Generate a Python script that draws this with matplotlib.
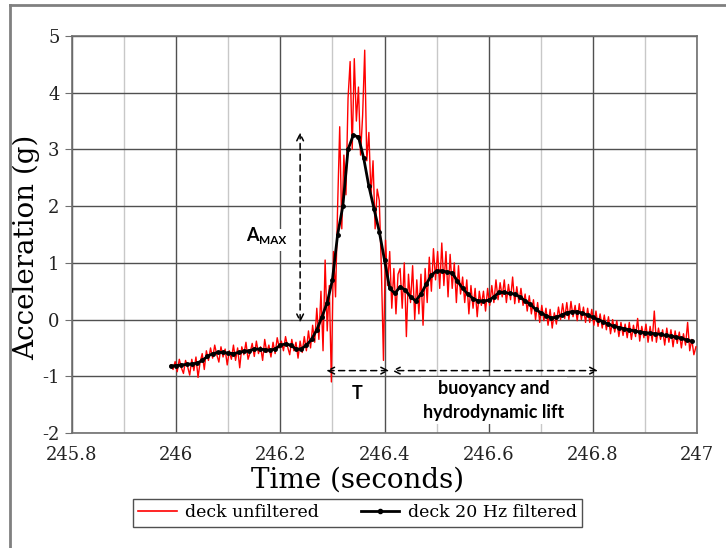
import matplotlib
matplotlib.use("Agg")
import matplotlib.pyplot as plt
import numpy as np
from matplotlib.lines import Line2D

plt.rcParams["axes.unicode_minus"] = False

# raw deck accelerometer trace (g), sampled every raw_dt seconds from raw_t0
raw_t0 = 245.99
raw_dt = 0.004
raw_acc = [
    -0.80, -0.88, -0.74, -0.92, -0.70, -0.85, -0.95, -0.72, -0.83, -0.98,
    -0.70, -0.90, -0.66, -1.02, -0.75, -0.60, -0.88, -0.55, -0.72, -0.50,
    -0.68, -0.45, -0.62, -0.75, -0.48, -0.66, -0.52, -0.80, -0.55, -0.70,
    -0.45, -0.72, -0.50, -0.85, -0.48, -0.62, -0.40, -0.70, -0.58, -0.42,
    -0.65, -0.38, -0.60, -0.48, -0.72, -0.35, -0.58, -0.45, -0.66, -0.40,
    -0.60, -0.32, -0.50, -0.38, -0.55, -0.30, -0.48, -0.62, -0.35, -0.55,
    -0.40, -0.68, -0.38, -0.58, -0.30, -0.55, -0.20, -0.50, -0.10, -0.40,
    0.20, -0.35, 0.50, -0.55, 1.05, -0.20, 0.60, -1.10, 1.20, 0.40,
    2.00, 3.40, 1.60, 2.90, 2.20, 3.90, 4.55, 3.00, 4.60, 3.50,
    4.10, 2.90, 3.60, 4.75, 2.80, 3.30, 2.20, 2.80, 1.60, 2.30,
    2.10, 0.90, -0.72, 1.40, 0.60, 1.20, 0.20, 0.90, 0.10, 0.80,
    0.90, 0.20, 1.00, -0.30, 0.80, 0.30, 0.95, 0.00, 0.70, 0.10,
    0.80, -0.10, 0.90, 0.30, 1.10, 0.50, 1.25, 0.70, 1.20, 0.55,
    1.35, 0.60, 1.20, 0.40, 1.15, 0.55, 1.00, 0.30, 0.95, 0.45,
    0.75, 0.30, 0.70, 0.10, 0.60, 0.20, 0.55, 0.05, 0.50, 0.25,
    0.50, 0.15, 0.55, 0.25, 0.60, 0.30, 0.70, 0.35, 0.65, 0.40,
    0.70, 0.30, 0.62, 0.35, 0.75, 0.28, 0.58, 0.30, 0.55, 0.25,
    0.45, 0.15, 0.42, 0.10, 0.35, 0.00, 0.30, -0.05, 0.25, -0.02,
    0.20, -0.10, 0.18, -0.15, 0.12, -0.08, 0.22, 0.00, 0.28, 0.02,
    0.30, 0.00, 0.32, 0.05, 0.25, -0.02, 0.28, 0.00, 0.22, -0.05,
    0.20, -0.05, 0.18, -0.10, 0.15, -0.12, 0.10, -0.15, 0.08, -0.18,
    0.05, -0.25, 0.00, -0.22, -0.02, -0.30, -0.05, -0.28, -0.08, -0.32,
    -0.05, -0.35, -0.10, -0.30, 0.02, -0.38, -0.12, -0.32, -0.08, -0.40,
    -0.12, -0.38, 0.15, -0.40, -0.15, -0.35, -0.18, -0.45, -0.15, -0.40,
    -0.18, -0.48, -0.20, -0.42, -0.22, -0.50, -0.25, -0.45, -0.05, -0.55,
    -0.35, -0.62, -0.48,
]

# 20 Hz filtered trace (g), every filt_dt seconds from filt_t0
filt_t0 = 245.99
filt_dt = 0.01
filt_acc = [
    -0.82, -0.81, -0.80, -0.79, -0.78, -0.77, -0.72, -0.65, -0.60, -0.58,
    -0.58, -0.59, -0.60, -0.58, -0.56, -0.55, -0.52, -0.52, -0.53, -0.54,
    -0.52, -0.45, -0.43, -0.45, -0.52, -0.52, -0.45, -0.35, -0.18, 0.05,
    0.30, 0.70, 1.50, 2.00, 3.00, 3.25, 3.22, 2.85, 2.35, 1.95,
    1.55, 1.05, 0.55, 0.46, 0.58, 0.52, 0.40, 0.33, 0.45, 0.62,
    0.78, 0.86, 0.86, 0.84, 0.82, 0.68, 0.55, 0.45, 0.37, 0.33,
    0.33, 0.34, 0.40, 0.48, 0.48, 0.46, 0.45, 0.40, 0.33, 0.27,
    0.18, 0.12, 0.07, 0.03, 0.04, 0.08, 0.12, 0.14, 0.14, 0.11,
    0.08, 0.04, 0.00, -0.04, -0.08, -0.12, -0.14, -0.16, -0.18, -0.20,
    -0.22, -0.23, -0.24, -0.25, -0.26, -0.28, -0.29, -0.31, -0.33, -0.36,
    -0.38,
]

x_ticks = [245.8, 246.0, 246.2, 246.4, 246.6, 246.8, 247.0]
x_tick_labels = ["245.8", "246", "246.2", "246.4", "246.6", "246.8", "247"]
y_ticks = [-2, -1, 0, 1, 2, 3, 4, 5]

raw_t = raw_t0 + raw_dt * np.arange(len(raw_acc))
filt_t = filt_t0 + filt_dt * np.arange(len(filt_acc))

serif = "DejaVu Serif"
sans = "Lato"

fig = plt.figure(figsize=(7.26, 5.48), dpi=100)
ax = fig.add_axes([72 / 726, 1 - 433 / 548, 625 / 726, 397 / 548])

ax.plot(raw_t, raw_acc, c="#ff0000", lw=1.0, zorder=3)
ax.plot(filt_t, filt_acc, c="black", lw=2.0, marker="o", ms=2.5, zorder=4)

ax.set_xlim(245.8, 247.0)
ax.set_ylim(-2, 5)
ax.set_xticks(x_ticks)
ax.set_xticklabels(x_tick_labels)
ax.set_xticks(np.arange(245.9, 247.0, 0.2), minor=True)
ax.set_yticks(y_ticks)

ax.grid(which="major", color="#505050", lw=1.0, zorder=0)
ax.grid(which="minor", axis="x", color="#c8c8c8", lw=1.0, zorder=0)
ax.set_axisbelow(True)

for s in ax.spines.values():
    s.set_color("#707070")
    s.set_linewidth(1.2)

ax.tick_params(axis="y", direction="out", length=5, color="#707070", pad=4,
               labelsize=13)
ax.tick_params(axis="x", direction="out", length=0, pad=9, labelsize=13)
ax.tick_params(which="minor", length=0)
for lab in ax.get_xticklabels() + ax.get_yticklabels():
    lab.set_family(serif)
    lab.set_color("#222222")

ax.set_xlabel("Time (seconds)", family=serif, fontsize=20)
ax.xaxis.set_label_coords(0.4576, -0.085)
ax.set_ylabel("Acceleration (g)", family=serif, fontsize=20)
ax.yaxis.set_label_coords(-0.051, 0.4685)

# annotations
dash = (0, (4, 3))
arr = dict(arrowstyle="<->", color="black", lw=1.1, linestyle=dash,
           shrinkA=0, shrinkB=0, mutation_scale=12)
ax.annotate("", xy=(246.238, 3.3), xytext=(246.238, -0.05), arrowprops=arr,
            zorder=8)
ax.annotate("", xy=(246.288, -0.9), xytext=(246.409, -0.9), arrowprops=arr,
            zorder=8)
ax.annotate("", xy=(246.414, -0.9), xytext=(246.81, -0.9), arrowprops=arr,
            zorder=8)

ax.text(246.159, 1.38, "A", family=sans, weight="bold", fontsize=13,
        ha="right", va="baseline", zorder=6)
ax.text(246.159, 1.34, "MAX", family=sans, weight="bold", fontsize=8.5,
        ha="left", va="baseline", zorder=5,
        bbox=dict(fc="white", ec="none", pad=4))
ax.text(246.347, -1.3, "T", family=sans, weight="bold", fontsize=13,
        ha="center", va="center", zorder=5,
        bbox=dict(fc="white", ec="none", pad=5))
ax.text(246.61, -1.43, "buoyancy and\nhydrodynamic lift", family=sans,
        weight="bold", fontsize=13, ha="center", va="center",
        linespacing=1.5, zorder=5,
        bbox=dict(fc="white", ec="none", pad=2))

# legend under the axes
handles = [Line2D([], [], c="#ff0000", lw=1.2),
           Line2D([], [], c="black", lw=2.0, marker="o", ms=3)]
fig.legend(handles, ["deck unfiltered", "deck 20 Hz filtered"], loc="center",
           bbox_to_anchor=(0.4924, 0.0639), ncol=2, fancybox=False,
           edgecolor="#505050", framealpha=1, numpoints=1, handlelength=2.2,
           handletextpad=0.5, columnspacing=2.4, borderpad=0.3,
           prop=dict(family=serif, size=12.5))

# page border
fig.add_artist(Line2D([10 / 726, 10 / 726], [0, 1 - 5 / 548],
                      transform=fig.transFigure, c="#808080", lw=2))
fig.add_artist(Line2D([10 / 726, 1], [1 - 5 / 548, 1 - 5 / 548],
                      transform=fig.transFigure, c="#808080", lw=2))

fig.savefig("out.png", dpi=100)
